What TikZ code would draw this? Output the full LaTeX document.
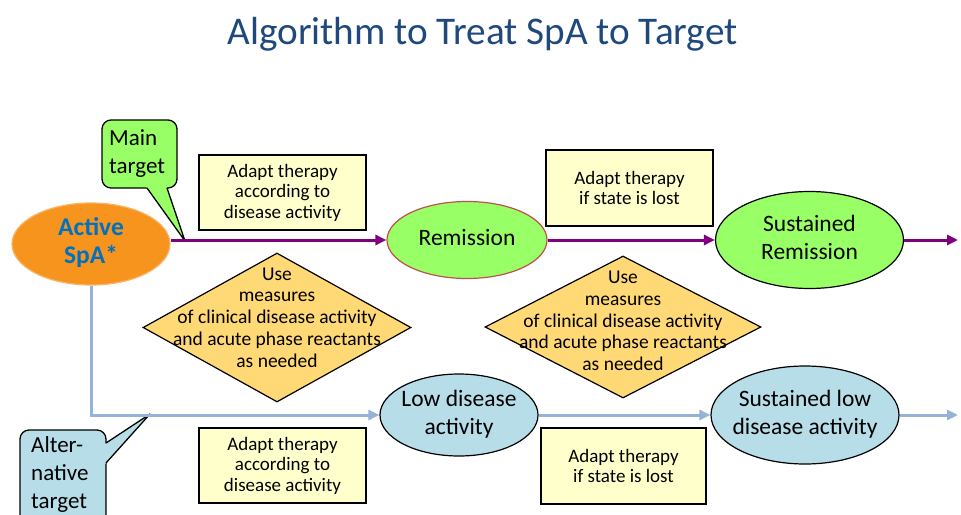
\documentclass[tikz,border=0pt]{standalone}
\usepackage{fontspec}
\setmainfont{Carlito}
\usetikzlibrary{arrows.meta,shapes.geometric}
\definecolor{ttlblue}{RGB}{31,73,125}
\definecolor{actfill}{RGB}{247,148,30}
\definecolor{actdraw}{RGB}{250,180,100}
\definecolor{acttext}{RGB}{0,112,192}
\definecolor{grn}{RGB}{153,255,102}
\definecolor{remdraw}{RGB}{192,80,77}
\definecolor{lblue}{RGB}{183,221,232}
\definecolor{lineblue}{RGB}{149,179,215}
\definecolor{purp}{RGB}{128,0,128}
\definecolor{boxy}{RGB}{255,255,204}
\definecolor{diay}{RGB}{255,217,117}
\newcommand{\zc}[1]{\makebox[0pt]{\begin{tabular}{@{}c@{}}#1\end{tabular}}}
\begin{document}
\begin{tikzpicture}[x=1pt,y=-1pt,
 ell/.style={ellipse, inner sep=0pt, line width=1.2pt, font=\fontsize{23.5}{28.5}\selectfont},
 abox/.style={rectangle, draw=black, fill=boxy, line width=1.3pt, inner sep=0pt, align=center, font=\fontsize{19}{20.5}\selectfont},
 dia/.style={diamond, draw=black, fill=diay, line width=1.2pt, inner sep=0pt, font=\fontsize{19.5}{21.8}\selectfont},
 callout/.style={draw=black, line width=1.3pt, line join=round},
 ctext/.style={align=left, anchor=west, inner sep=0pt, font=\fontsize{23}{28}\selectfont},
 parrow/.style={draw=purp, line width=3pt, -{Triangle[length=11pt,width=10pt]}},
 barrow/.style={draw=lineblue, line width=3pt, -{Triangle[length=11pt,width=10pt]}}]
\path[use as bounding box, clip] (0,0) rectangle (961,514);
\fill[white] (0,0) rectangle (961,514);

\node[font=\fontsize{39.2}{46}\selectfont, text=ttlblue, anchor=base, inner sep=0pt] (title) at (482.5,44) {Algorithm to Treat SpA to Target};

% callout: main target
\draw[callout, fill=grn, rounded corners=9pt] (102,120) rectangle (177,188);
\fill[grn] (144.85,185) -- (185,241) -- (165.98,185) -- cycle;
\draw[callout] (147,188) -- (185,241) -- (167,188);
\node[ctext] (maintgt) at (109,154) {Main\\target};
% callout: alternative target
\draw[callout, fill=lblue, rounded corners=9pt] (20,430) rectangle (106,540);
\fill[lblue] (103,445) -- (150,414) -- (103,466.3) -- cycle;
\draw[callout] (106,443) -- (150,414) -- (106,463);
\node[ctext] (alttgt) at (31,474) {Alter-\\native\\target};

% states
\node[ell, fill=actfill, draw=actdraw, minimum width=158, minimum height=82, text=acttext, font=\fontsize{25.5}{28.5}\selectfont\bfseries] (active) at (91,244) {\zc{Active\\SpA*}};
\node[ell, fill=grn, draw=remdraw, minimum width=160, minimum height=77] (remission) at (467,240) {\zc{Remission}};
\node[ell, fill=grn, draw=black, minimum width=188, minimum height=97] (sustrem) at (809.5,240) {\zc{Sustained\\Remission}};
\node[ell, fill=lblue, draw=black, minimum width=158, minimum height=82] (low) at (459,415) {\zc{Low disease\\activity}};
\node[ell, fill=lblue, draw=black, minimum width=188, minimum height=98] (sustlow) at (805,415) {\zc{Sustained low\\disease activity}};

% boxes
\node[abox, minimum width=167, minimum height=75] (box1) at (282.5,192.5) {Adapt therapy\\according to\\disease activity};
\node[abox, minimum width=167, minimum height=76] (box2) at (629.5,188) {Adapt therapy\\if state is lost};
\node[abox, minimum width=167, minimum height=75] (box3) at (282.5,465.5) {Adapt therapy\\according to\\disease activity};
\node[abox, minimum width=165, minimum height=76] (box4) at (623.5,466) {Adapt therapy\\if state is lost};

% diamonds
\node[dia, minimum width=268, minimum height=149] (dia1) at (277,327.5) {\raisebox{3pt}[0pt][0pt]{\zc{Use\\measures\\of clinical disease activity\\and acute phase reactants\\as needed}}};
\node[dia, minimum width=276, minimum height=142] (dia2) at (623,327) {\raisebox{-1pt}[0pt][0pt]{\zc{Use\\measures\\of clinical disease activity\\and acute phase reactants\\as needed}}};

% connectors
\coordinate (pout) at (958,240);
\coordinate (bout) at (958,415);
\draw[parrow] (active.east |- remission.west) -- (remission.west);
\draw[parrow] (remission.east) -- (sustrem.west);
\draw[parrow] (sustrem.east) -- (pout);
\draw[barrow] (active.south) |- (low.west);
\draw[barrow] (low.east) -- (sustlow.west);
\draw[barrow] (sustlow.east) -- (bout);
\end{tikzpicture}
\end{document}
